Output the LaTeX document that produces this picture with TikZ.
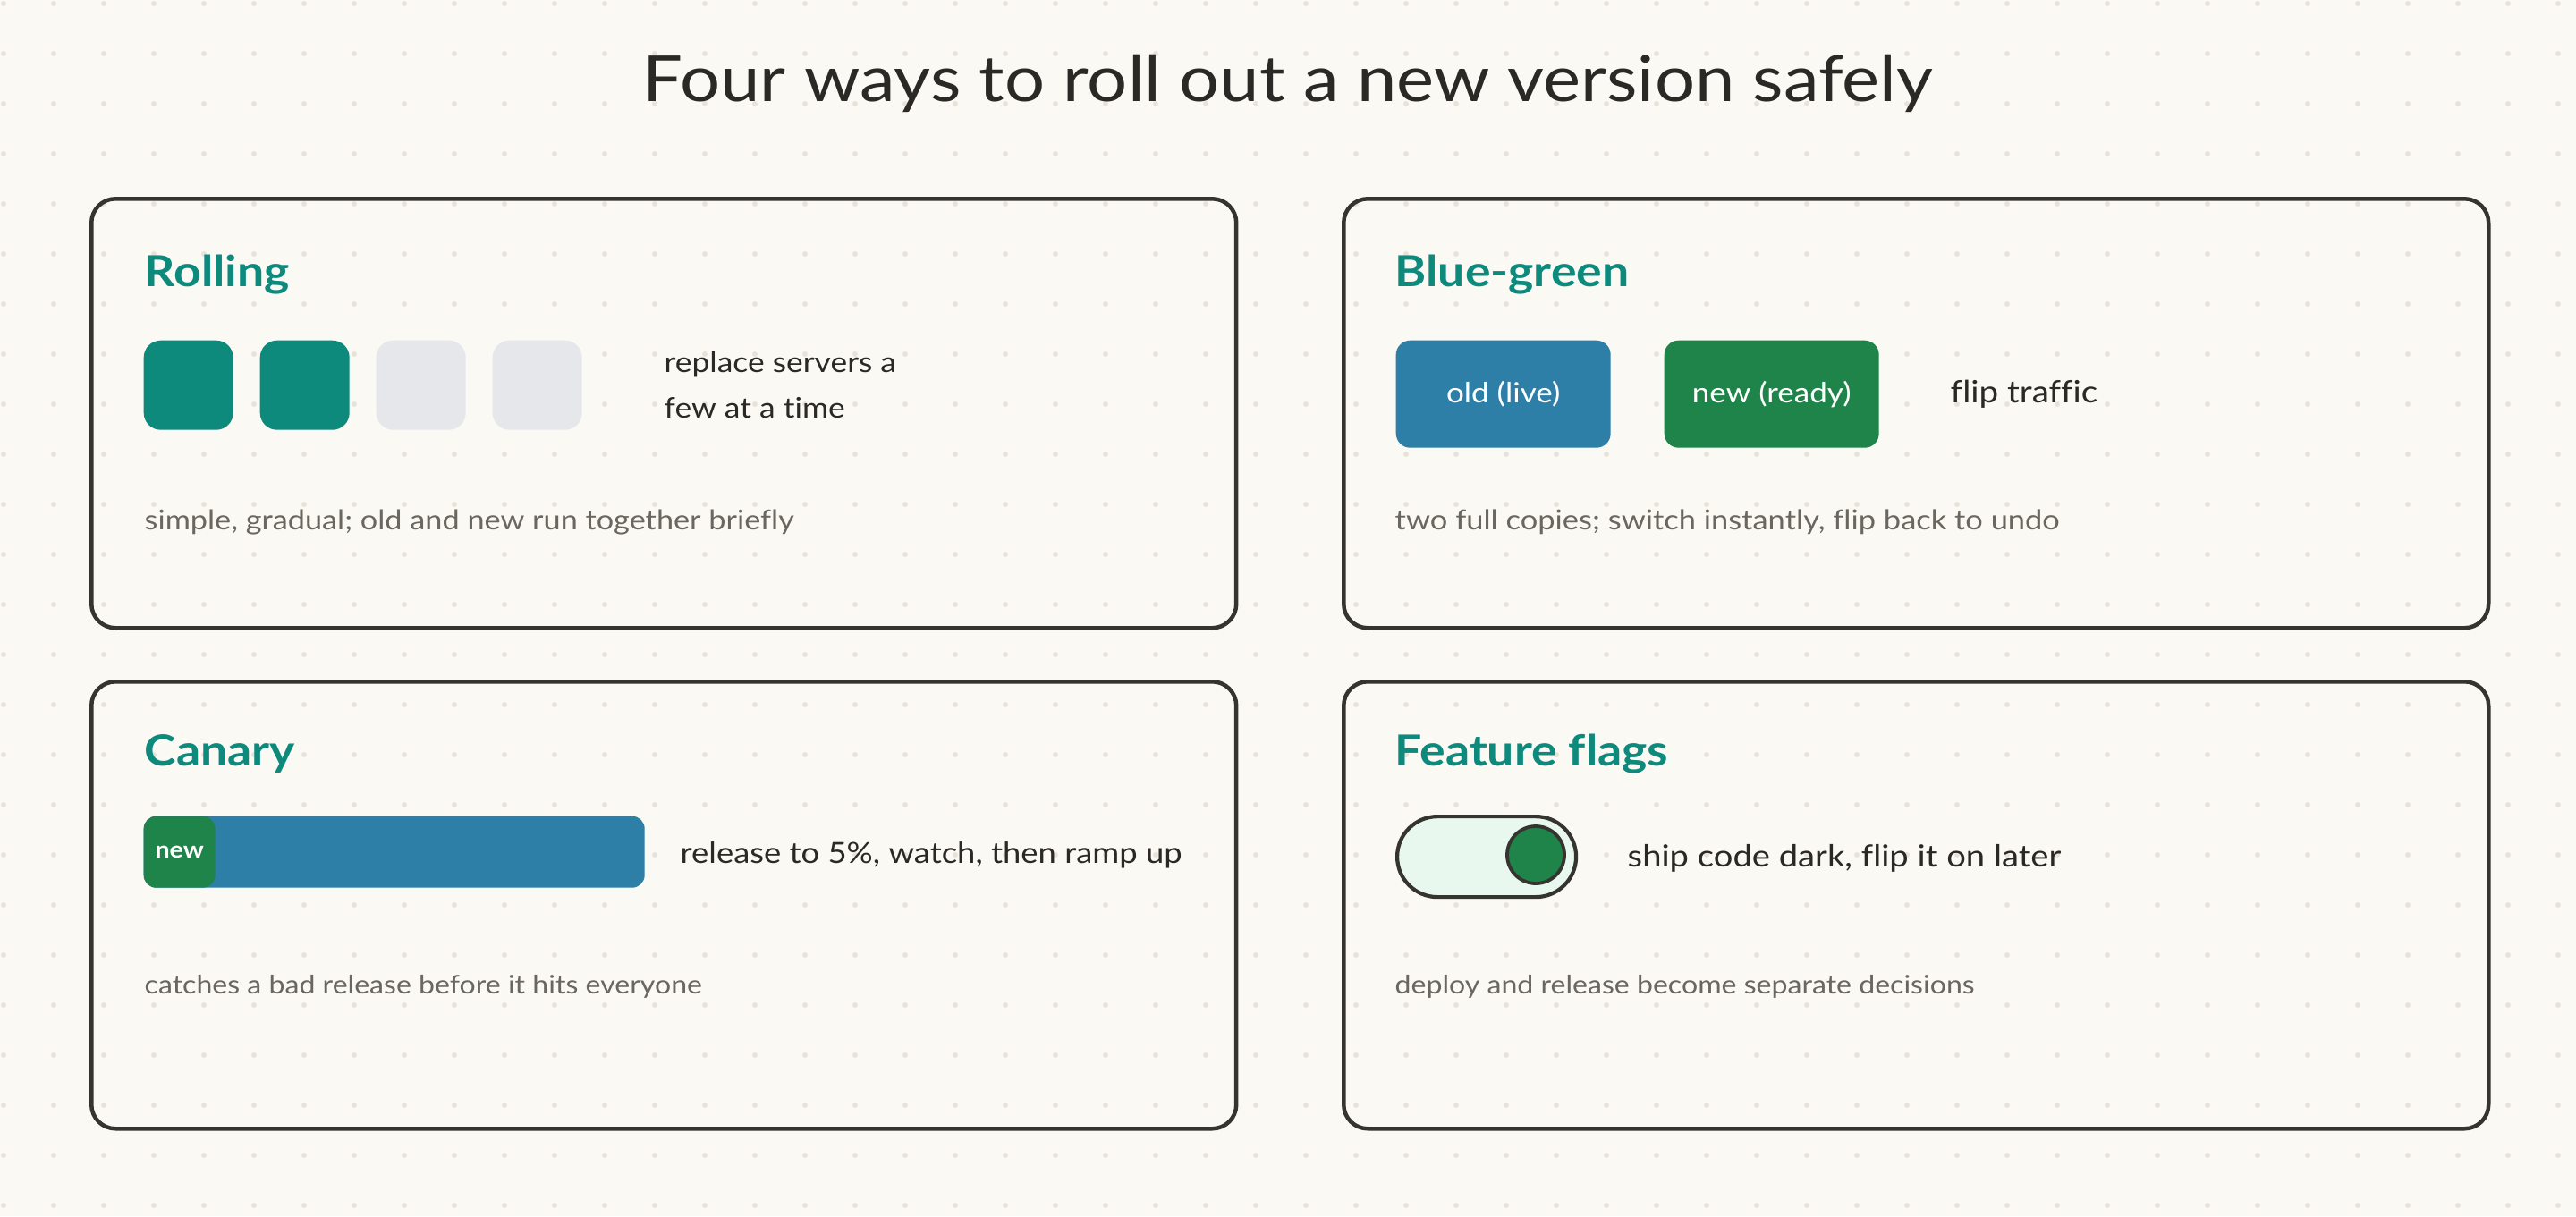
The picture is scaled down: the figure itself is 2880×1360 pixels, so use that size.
\documentclass[tikz,border=0pt]{standalone}
\usepackage{fontspec}
\setmainfont[FakeStretch=1.12, Ligatures=NoCommon]{Lato}
\definecolor{bg}{HTML}{FAF9F4}
\definecolor{dotc}{HTML}{E7E3D8}
\definecolor{ink}{HTML}{36342F}
\definecolor{txtink}{HTML}{2A2925}
\definecolor{accteal}{HTML}{0E8A7D}
\definecolor{idlegray}{HTML}{E5E7EB}
\definecolor{blu}{HTML}{2E7FA8}
\definecolor{grn}{HTML}{1E8449}
\definecolor{capgray}{HTML}{69675F}
\definecolor{mint}{HTML}{E9F8EF}
\begin{document}
\begin{tikzpicture}[x=0.1mm,y=-0.1mm,
  card/.style={draw=ink, line width=0.45mm, rounded corners=2.7mm, minimum width=128mm, anchor=north west, inner sep=0pt},
  srv/.style={rounded corners=1.9mm, minimum width=10mm, minimum height=10mm, anchor=north west, inner sep=0pt},
  env/.style={rounded corners=1.6mm, minimum width=24mm, minimum height=12mm, anchor=north west, inner sep=0pt, text=white, font=\fontsize{8.9}{10}\selectfont},
  maintitle/.style={anchor=base, inner sep=0pt, text=txtink, font=\fontsize{20.2}{24}\selectfont},
  cardtitle/.style={anchor=base west, inner sep=0pt, text=accteal, font=\fontsize{13.6}{16}\selectfont\bfseries},
  body/.style={anchor=base west, inner sep=0pt, text=txtink, font=\fontsize{9}{11}\selectfont},
  caption/.style={anchor=base west, inner sep=0pt, text=capgray, font=\fontsize{8.5}{10}\selectfont},
]
\fill[bg] (0,0) rectangle (2880,1360);
\useasboundingbox (0,0) rectangle (2880,1360);
\foreach \i in {0,...,51}{\foreach \j in {0,...,24}{\fill[dotc] (4+56*\i,4+56*\j) circle[radius=0.3mm];}}

\node[maintitle] (title) at (1440,113) {Four ways to roll out a new version safely};

% cards
\node[card, minimum height=48mm] (c1) at (100,220) {};
\node[card, minimum height=48mm] (c2) at (1500,220) {};
\node[card, minimum height=50mm] (c3) at (100,760) {};
\node[card, minimum height=50mm] (c4) at (1500,760) {};

% Rolling
\node[cardtitle] (t1) at (161,320) {Rolling};
\node[srv, fill=accteal] (s1) at (160,380) {};
\node[srv, fill=accteal] (s2) at (290,380) {};
\node[srv, fill=idlegray] (s3) at (420,380) {};
\node[srv, fill=idlegray] (s4) at (550,380) {};
\node[body] (r1) at (742,416) {replace servers a};
\node[body] (r2) at (742,467) {few at a time};
\node[caption, font=\fontsize{8.7}{10}\selectfont] (cap1) at (161,592) {simple, gradual; old and new run together briefly};

% Blue-green
\node[cardtitle] (t2) at (1559,320) {Blue-green};
\node[env, fill=blu] (old) at (1560,380) {old (live)};
\node[env, fill=grn] (new) at (1860,380) {new (ready)};
\node[body, font=\fontsize{9.8}{11}\selectfont] (flip) at (2180,450) {flip traffic};
\node[caption, font=\fontsize{8.75}{10}\selectfont] (cap2) at (1559,592) {two full copies; switch instantly, flip back to undo};

% Canary
\node[cardtitle] (t3) at (161,856) {Canary};
\node[fill=blu, rounded corners=1.4mm, minimum width=56mm, minimum height=8mm, anchor=north west, inner sep=0pt] (bar) at (160,912) {};
\node[fill=grn, rounded corners=1.4mm, minimum width=8mm, minimum height=8mm, anchor=north west, inner sep=0pt, text=white, font=\fontsize{7.3}{9}\selectfont\bfseries] (newseg) at (160,912) {new};
\node[body, font=\fontsize{9.25}{11}\selectfont] (ctext) at (760,965) {release to 5\%, watch, then ramp up};
\node[caption, font=\fontsize{8.15}{10}\selectfont] (cap3) at (161,1111) {catches a bad release before it hits everyone};

% Feature flags
\node[cardtitle] (t4) at (1559,856) {Feature flags};
\node[draw=ink, fill=mint, line width=0.42mm, rounded corners=4.5mm, minimum width=20mm, minimum height=9mm, anchor=north west, inner sep=0pt] (pill) at (1560,911) {};
\node[circle, draw=ink, fill=grn, line width=0.38mm, minimum size=6.4mm, inner sep=0pt] (knob) at (1717,956) {};
\node[body, font=\fontsize{9.7}{11}\selectfont] (ship) at (1819,969) {ship code dark, flip it on later};
\node[caption, font=\fontsize{8.15}{10}\selectfont] (cap4) at (1559,1111) {deploy and release become separate decisions};
\end{tikzpicture}
\end{document}
